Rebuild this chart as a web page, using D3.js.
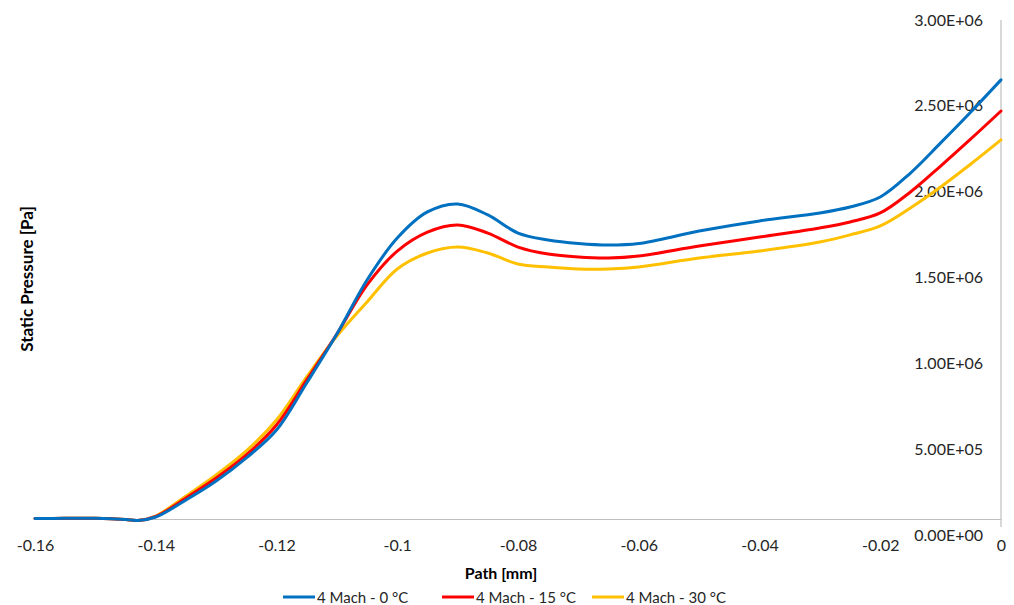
<!DOCTYPE html>
<html>
<head>
<meta charset="utf-8">
<script src="https://cdn.jsdelivr.net/npm/d3@7"></script>
<style>
  html, body { margin: 0; padding: 0; background: #fff; }
  svg { display: block; font-family: Lato, "Open Sans", sans-serif; }
</style>
</head>
<body>
<svg id="chart" width="1014" height="605"></svg>
<script>
// ---- data ----
const pathMm = [-0.16, -0.155, -0.15, -0.145, -0.143, -0.14, -0.135, -0.13, -0.125, -0.12,
  -0.115, -0.11, -0.105, -0.1, -0.095, -0.09, -0.085, -0.08, -0.075, -0.07, -0.065, -0.06,
  -0.05, -0.04, -0.03, -0.025, -0.02, -0.015, -0.01, -0.005, 0];

const mach0 = [3e3, 4e3, 4e3, -3e3, -9e3, 1.2e4, 1.14e5, 2.28e5, 3.67e5, 5.35e5,
  8.18e5, 1.112e6, 1.437e6, 1.689e6, 1.846e6, 1.894e6, 1.828e6, 1.719e6, 1.677e6, 1.656e6, 1.647e6, 1.656e6,
  1.731e6, 1.792e6, 1.840e6, 1.876e6, 1.936e6, 2.080e6, 2.261e6, 2.447e6, 2.640e6];

const mach15 = [3e3, 4e3, 4e3, -3e3, -9e3, 1.5e4, 1.26e5, 2.46e5, 3.85e5, 5.65e5,
  8.36e5, 1.112e6, 1.407e6, 1.611e6, 1.725e6, 1.768e6, 1.719e6, 1.635e6, 1.593e6, 1.575e6, 1.569e6, 1.581e6,
  1.641e6, 1.695e6, 1.750e6, 1.786e6, 1.840e6, 1.966e6, 2.122e6, 2.285e6, 2.453e6];

const mach30 = [3e3, 4e3, 4e3, -3e3, -9e3, 1.8e4, 1.38e5, 2.65e5, 4.09e5, 5.95e5,
  8.54e5, 1.100e6, 1.305e6, 1.503e6, 1.599e6, 1.635e6, 1.599e6, 1.533e6, 1.515e6, 1.503e6, 1.503e6, 1.515e6,
  1.569e6, 1.611e6, 1.665e6, 1.708e6, 1.762e6, 1.870e6, 1.996e6, 2.134e6, 2.279e6];

const seriesNames = ["4 Mach - 0 °C", "4 Mach - 15 °C", "4 Mach - 30 °C"];
const seriesColors = ["#0070C0", "#FF0000", "#FFC000"];

const xTickValues = [-0.16, -0.14, -0.12, -0.1, -0.08, -0.06, -0.04, -0.02, 0];
const xTickLabels = ["-0.16", "-0.14", "-0.12", "-0.1", "-0.08", "-0.06", "-0.04", "-0.02", "0"];
const yTickValues = [0, 5e5, 1e6, 1.5e6, 2e6, 2.5e6, 3e6];
const yTickLabels = ["0.00E+00", "5.00E+05", "1.00E+06", "1.50E+06", "2.00E+06", "2.50E+06", "3.00E+06"];

// ---- drawing ----
const svg = d3.select("#chart");
const x = d3.scaleLinear().domain([-0.16, 0]).range([35, 1001]);
const y = d3.scaleLinear().domain([0, 3e6]).range([519, 20]);
const yLab = d3.scaleLinear().domain([0, 3e6]).range([535, 20]);

// x axis
const xAxis = d3.axisBottom(x).tickValues(xTickValues)
  .tickFormat((d, i) => xTickLabels[i]).tickSize(0).tickPadding(21);
const gx = svg.append("g").attr("transform", "translate(0,519)").call(xAxis);
gx.select(".domain").attr("stroke", "#bfbfbf").attr("stroke-width", 1.2);
gx.selectAll("text").attr("font-size", 16).attr("fill", "#262626")
  .attr("font-family", "Lato, 'Open Sans', sans-serif");

// y axis line
svg.append("line").attr("x1", 1001).attr("x2", 1001).attr("y1", y(3e6)).attr("y2", 527)
  .attr("stroke", "#bfbfbf").attr("stroke-width", 1.2);

// y labels
const yAxis = d3.axisLeft(yLab).tickValues(yTickValues)
  .tickFormat((d, i) => yTickLabels[i]).tickSize(0).tickPadding(0);
const gy = svg.append("g").attr("transform", "translate(983,0)").call(yAxis);
gy.select(".domain").remove();
gy.selectAll("text").attr("font-size", 16).attr("fill", "#262626")
  .attr("font-family", "Lato, 'Open Sans', sans-serif");

// axis titles
svg.append("text").attr("x", 501).attr("y", 579).attr("text-anchor", "middle")
  .attr("font-size", 16).attr("font-weight", "bold").attr("fill", "#000").text("Path [mm]");
svg.append("text").attr("transform", "translate(33,279) rotate(-90)").attr("text-anchor", "middle")
  .attr("font-size", 17).attr("font-weight", "bold").attr("fill", "#000").text("Static Pressure [Pa]");

// lines
const seriesData = [mach0, mach15, mach30];
const line = d3.line().x((d, i) => x(pathMm[i])).y(d => y(d)).curve(d3.curveCatmullRom.alpha(0.5));
seriesData.slice().reverse().forEach((vals, k) => {
  const idx = seriesData.length - 1 - k;
  svg.append("path").datum(vals).attr("d", line).attr("fill", "none")
    .attr("stroke", seriesColors[idx]).attr("stroke-width", 3).attr("stroke-linejoin", "round")
    .attr("stroke-linecap", "round");
});

// legend
const legendX = [283, 442, 592];
const lg = svg.append("g");
seriesNames.forEach((name, i) => {
  lg.append("line").attr("x1", legendX[i]).attr("x2", legendX[i] + 32)
    .attr("y1", 597).attr("y2", 597).attr("stroke", seriesColors[i]).attr("stroke-width", 3);
  lg.append("text").attr("x", legendX[i] + 34).attr("y", 603).attr("font-size", 15)
    .attr("fill", "#262626").text(name);
});
</script>
</body>
</html>
